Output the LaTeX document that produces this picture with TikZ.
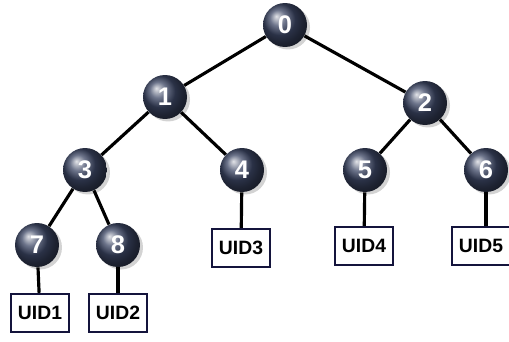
\documentclass[tikz,border=0pt]{standalone}
\usepackage{fontspec}
\setmainfont{Liberation Sans}
\usetikzlibrary{shadings,shadows}

\definecolor{ballblue}{RGB}{60,70,100}
\definecolor{boxline}{RGB}{20,20,60}

\tikzset{
  ball/.style={circle, minimum size=0.88cm, inner sep=0pt, shading=ball,
    ball color=ballblue, text=white, font=\bfseries\fontsize{14.5}{14.5}\selectfont,
    drop shadow={shadow xshift=0.06cm, shadow yshift=-0.05cm, opacity=0.35}},
  uid/.style={draw=boxline, line width=1.4pt, fill=white, minimum width=1.16cm,
    minimum height=0.76cm, inner sep=0pt, font=\bfseries\fontsize{11}{11}\selectfont},
  edge/.style={black, line width=1.8pt}
}

\begin{document}
\begin{tikzpicture}[x=0.02cm, y=-0.02cm]
	\useasboundingbox (0,0) rectangle (509,341);

	% tree
	\node [ball] at (285, 25) (n0) {0};
	\node [ball] at (165, 97) (n1) {1};
	\node [ball] at (425, 103) (n2) {2};
	\node [ball] at (85, 170) (n3) {3};
	\node [ball] at (242, 170) (n4) {4};
	\node [ball] at (365, 170) (n5) {5};
	\node [ball] at (486, 170) (n6) {6};
	\node [ball] at (37, 245) (n7) {7};
	\node [ball] at (118, 245) (n8) {8};

	% leaves
	\node [uid] at (40, 313) (uid1) {UID1};
	\node [uid] at (118, 313) (uid2) {UID2};
	\node [uid] at (241, 248) (uid3) {UID3};
	\node [uid] at (364, 246) (uid4) {UID4};
	\node [uid] at (481, 246) (uid5) {UID5};

	\begin{scope}[on background layer/.try]
	\draw [edge] (n0) -- (n1);
	\draw [edge] (n0) -- (n2);
	\draw [edge] (n1) -- (n3);
	\draw [edge] (n1) -- (n4);
	\draw [edge] (n2) -- (n5);
	\draw [edge] (n2) -- (n6);
	\draw [edge] (n3) -- (n7);
	\draw [edge] (n3) -- (n8);
	\draw [edge] (n7) -- (uid1);
	\draw [edge] (n8) -- (uid2);
	\draw [edge] (n4) -- (uid3);
	\draw [edge] (n5) -- (uid4);
	\draw [edge] (n6.south) -- (n6.south |- uid5.north);
	\end{scope}
\end{tikzpicture}
\end{document}
